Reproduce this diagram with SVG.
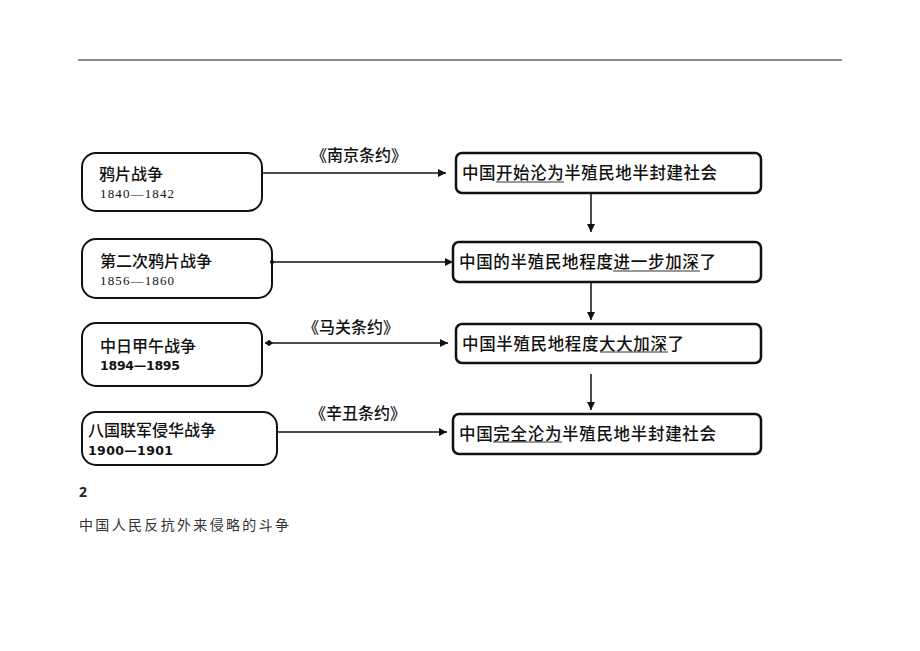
<svg xmlns="http://www.w3.org/2000/svg" width="920" height="651" viewBox="0 0 920 651">
<style>
.lb{fill:#fff;stroke:#111;stroke-width:2}
.rb{fill:#fff;stroke:#111;stroke-width:2.5}
.t{font-family:"Noto Sans CJK SC",sans-serif;font-size:16px;font-weight:500;fill:#111}
.rt{font-family:"Noto Sans CJK SC",sans-serif;font-size:16.5px;font-weight:500;fill:#111}
.y1{font-family:"Liberation Serif",serif;font-size:13px;fill:#111}
.y2{font-family:"DejaVu Sans",sans-serif;font-size:12.5px;font-weight:bold;fill:#111}
.lab{font-family:"Noto Sans CJK SC",sans-serif;font-size:16px;font-weight:500;fill:#111}
.c{stroke:#111;stroke-width:1.5;fill:none}
.u{stroke:#333;stroke-width:1.2}
</style>
<defs>
<marker id="ah2" viewBox="0 0 10 10" refX="10" refY="5" markerWidth="8" markerHeight="8" markerUnits="userSpaceOnUse" orient="auto"><path d="M0,0 L10,5 L0,10 z" fill="#111"/></marker>
<marker id="dm" viewBox="0 0 10 10" refX="0" refY="5" markerWidth="8" markerHeight="8" markerUnits="userSpaceOnUse" orient="auto"><path d="M0,5 L5,1 L10,5 L5,9 z" fill="#111"/></marker>
<marker id="dot" viewBox="0 0 10 10" refX="5" refY="5" markerWidth="4" markerHeight="4" markerUnits="userSpaceOnUse"><circle cx="5" cy="5" r="5" fill="#111"/></marker>
</defs>
<line x1="78" y1="60" x2="842" y2="60" stroke="#8a8a8a" stroke-width="2"/>

<g id="n1">
<rect class="lb" x="82" y="153" width="180" height="58" rx="14"/>
<text class="t" x="99" y="180">鸦片战争</text>
<text class="y1" x="100" y="198" textLength="74">1840—1842</text>
</g>
<g id="n2">
<rect class="lb" x="82" y="239" width="190" height="59" rx="14"/>
<text class="t" x="100" y="267">第二次鸦片战争</text>
<text class="y1" x="100" y="285" textLength="74">1856—1860</text>
</g>
<g id="n3">
<rect class="lb" x="82" y="323" width="180" height="63" rx="14"/>
<text class="t" x="100" y="352">中日甲午战争</text>
<text class="y2" x="100" y="370" textLength="80">1894—1895</text>
</g>
<g id="n4">
<rect class="lb" x="82" y="412" width="195" height="53" rx="14"/>
<text class="t" x="88" y="436">八国联军侵华战争</text>
<text class="y2" x="88" y="455" textLength="85">1900—1901</text>
</g>

<g id="r1">
<rect class="rb" x="456" y="153" width="305" height="40" rx="6"/>
<text class="rt" x="462" y="179" textLength="255">中国开始沦为半殖民地半封建社会</text>
<line class="u" x1="496" y1="182" x2="564" y2="182"/>
</g>
<g id="r2">
<rect class="rb" x="453" y="242" width="308" height="40" rx="6"/>
<text class="rt" x="459" y="268" textLength="257">中国的半殖民地程度进一步加深了</text>
<line class="u" x1="613" y1="271" x2="700" y2="271"/>
</g>
<g id="r3">
<rect class="rb" x="456" y="324" width="305" height="39" rx="6"/>
<text class="rt" x="462" y="350" textLength="222">中国半殖民地程度大大加深了</text>
<line class="u" x1="600" y1="352" x2="668" y2="352"/>
</g>
<g id="r4">
<rect class="rb" x="453" y="414" width="308" height="40" rx="6"/>
<text class="rt" x="459" y="440" textLength="257">中国完全沦为半殖民地半封建社会</text>
<line class="u" x1="493" y1="442" x2="562" y2="442"/>
</g>

<g id="connectors">
<line class="c" x1="262" y1="173" x2="446" y2="173" marker-end="url(#ah2)"/>
<line class="c" x1="272" y1="262" x2="453" y2="262" marker-start="url(#dot)" marker-end="url(#ah2)"/>
<line class="c" x1="265" y1="343" x2="448" y2="343" marker-start="url(#dm)" marker-end="url(#ah2)"/>
<line class="c" x1="277" y1="432" x2="447" y2="432" marker-end="url(#ah2)"/>
<line class="c" x1="591" y1="193" x2="591" y2="232" marker-end="url(#ah2)"/>
<line class="c" x1="591" y1="282" x2="591" y2="320" marker-end="url(#ah2)"/>
<line class="c" x1="591" y1="374" x2="591" y2="410" marker-end="url(#ah2)"/>
<text class="lab" x="359" y="161" text-anchor="middle">《南京条约》</text>
<text class="lab" x="351" y="333" text-anchor="middle">《马关条约》</text>
<text class="lab" x="358" y="419" text-anchor="middle">《辛丑条约》</text>
</g>

<text x="79" y="497" font-family="'Open Sans','Noto Sans',sans-serif" font-size="14" font-weight="bold" fill="#222">2</text>
<text x="79" y="530" font-family="'Noto Sans CJK SC',sans-serif" font-size="14" fill="#333" textLength="210">中国人民反抗外来侵略的斗争</text>
</svg>
